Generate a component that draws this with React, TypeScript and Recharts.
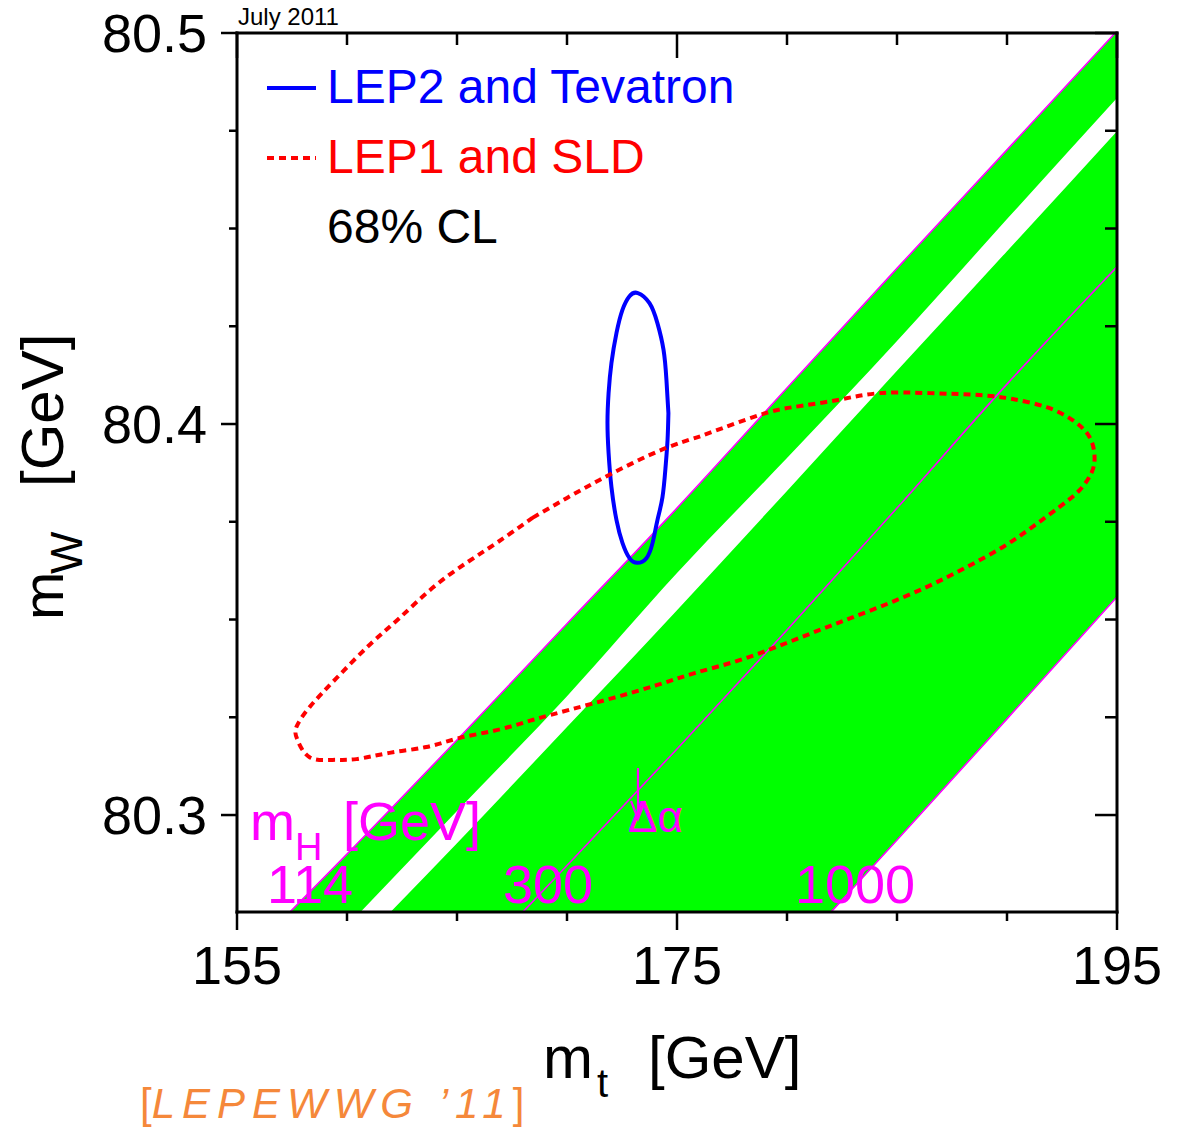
import { Area, ComposedChart, Legend, Line, XAxis, YAxis } from 'recharts'

// m_t values (GeV) where the SM band edges were read
const mt = [155, 160, 165, 170, 175, 180, 185, 190, 195]
// band edges: m_W (GeV) for each m_t
const mh114 = [80.2616, 80.29, 80.3192, 80.3489, 80.3785, 80.4092, 80.4398, 80.4701, 80.5005]
const gapTop = [80.2425, 80.2716, 80.301, 80.3304, 80.3619, 80.3913, 80.4212, 80.4524, 80.4834]
const gapBottom = [80.2345, 80.2637, 80.2928, 80.3225, 80.3524, 80.3829, 80.4136, 80.4442, 80.4749]
const mh300 = [80.1997, 80.2261, 80.2573, 80.2871, 80.3169, 80.3473, 80.3785, 80.4102, 80.4402]
const mh1000 = [80.116, 80.145, 80.1737, 80.2028, 80.2327, 80.2629, 80.2936, 80.3246, 80.3558]

// LEP2 and Tevatron, 68% CL contour
const lep2Mt = [
	174.61, 174.52, 174.39, 174.11, 173.75, 173.22, 172.84, 172.52, 172.25, 172.02, 171.89, 171.84, 171.89,
	172.02, 172.25, 172.52, 172.84, 173.2, 173.61, 173.89, 174.11, 174.34, 174.48, 174.57, 174.61,
]
const lep2Mw = [
	80.4028, 80.4113, 80.4189, 80.4258, 80.4309, 80.4335, 80.4327, 80.4292, 80.4233, 80.4156, 80.4079, 80.4003,
	80.3926, 80.3839, 80.3754, 80.3696, 80.3657, 80.3645, 80.3657, 80.3696, 80.3754, 80.3813, 80.389, 80.3959,
	80.4028,
]

// LEP1 and SLD, 68% CL contour
const lep1Mt = [
	168.43, 170.0, 171.48, 172.98, 174.52, 175.8, 176.61, 178.75, 180.25, 182.25, 184.2, 186.48, 188.75, 190.25,
	191.8, 192.98, 193.75, 193.98, 193.84, 193.3, 192.39, 191.16, 189.8, 188.16, 186.34, 184.2, 182.07, 179.98,
	177.84, 175.8, 174.07, 172.07, 170.11, 168.43, 166.8, 165.11, 163.61, 161.93, 160.43, 159.34, 158.3, 157.75,
	157.7, 158.3, 159.52, 161.02, 162.39, 163.89, 165.43, 166.8, 168.43,
]
const lep1Mw = [
	80.376, 80.3811, 80.3857, 80.39, 80.3939, 80.3964, 80.398, 80.4023, 80.4043, 80.4061, 80.4079, 80.4079,
	80.4074, 80.4064, 80.4043, 80.401, 80.3967, 80.3916, 80.3875, 80.3831, 80.3788, 80.3737, 80.3685, 80.3634,
	80.3583, 80.3532, 80.3486, 80.344, 80.3396, 80.3363, 80.3332, 80.3299, 80.3269, 80.3243, 80.3217, 80.3197,
	80.3174, 80.3159, 80.3143, 80.3141, 80.3148, 80.3192, 80.3225, 80.3276, 80.335, 80.3435, 80.3504, 80.3581,
	80.3645, 80.3696, 80.376,
]

const xTicks = [155, 160, 165, 170, 175, 180, 185, 190, 195]
const xMajor = [155, 175, 195]
const yTicks = [80.3, 80.325, 80.35, 80.375, 80.4, 80.425, 80.45, 80.475, 80.5]
const yMajor = [80.3, 80.4, 80.5]
const legendNames = ['LEP2 and Tevatron', 'LEP1 and SLD']
const higgsLabels = ['114', '300', '1000']

const bandRows = mt.map((x, i) => ({
	x,
	allowed: [mh1000[i], mh114[i]],
	excluded: [gapBottom[i], gapTop[i]],
	mh114: mh114[i],
	mh300: mh300[i],
	mh1000: mh1000[i],
}))
const lep2 = lep2Mt.map((x, i) => ({ x, mw: lep2Mw[i] }))
const lep1 = lep1Mt.map((x, i) => ({ x, mw: lep1Mw[i] }))

const MAGENTA = '#ff00ff'
const isMajor = (v: number, majors: number[]) => majors.some((m) => Math.abs(m - v) < 1e-6)

const BottomTick = ({ x, y, payload }: any) => {
	const major = isMajor(payload.value, xMajor)
	return (
		<g>
			<line x1={x} x2={x} y1={y} y2={y + (major ? 18 : 9)} stroke='#000' strokeWidth={2.5} />
			{major && (
				<text x={x} y={y + 72} textAnchor='middle' fontSize={54} fill='#000'>
					{payload.value}
				</text>
			)}
		</g>
	)
}

const LeftTick = ({ x, y, payload }: any) => {
	const major = isMajor(payload.value, yMajor)
	return (
		<g>
			<line x1={x - (major ? 16 : 8)} x2={x} y1={y} y2={y} stroke='#000' strokeWidth={2.5} />
			{major && (
				<text x={x - 30} y={y + 19} textAnchor='end' fontSize={54} fill='#000'>
					{payload.value.toFixed(1)}
				</text>
			)}
		</g>
	)
}

const TopTick = ({ x, y, payload }: any) => (
	<line x1={x} x2={x} y1={y} y2={y + (isMajor(payload.value, xMajor) ? 25 : 12)} stroke='#000' strokeWidth={2.5} />
)

const RightTick = ({ x, y, payload }: any) => (
	<line x1={x - (isMajor(payload.value, yMajor) ? 22 : 12)} x2={x} y1={y} y2={y} stroke='#000' strokeWidth={2.5} />
)

const LegendBox = ({ payload }: any) => {
	const items = legendNames
		.map((name) => (payload || []).find((e: any) => e.value === name))
		.filter(Boolean)
	return (
		<svg width={520} height={210} style={{ display: 'block', overflow: 'visible' }}>
			{items.map((entry: any, i: number) => (
				<g key={entry.value}>
					<line
						x1={5}
						x2={54}
						y1={38 + i * 70}
						y2={38 + i * 70}
						stroke={entry.color}
						strokeWidth={4}
						strokeDasharray={entry.payload?.strokeDasharray}
					/>
					<text x={65} y={53 + i * 70} fontSize={48} fill={entry.color}>
						{entry.value}
					</text>
				</g>
			))}
			<text x={65} y={193} fontSize={48} fill='#000'>
				68% CL
			</text>
		</svg>
	)
}

const axisLine = { stroke: '#000', strokeWidth: 3, strokeLinecap: 'square' as const }

const App = () => {
	return (
		<div
			style={{
				position: 'absolute',
				left: 0,
				top: 0,
				width: 1180,
				height: 1127,
				background: '#fff',
				fontFamily: "'Liberation Sans', Arial, sans-serif",
			}}
		>
			<ComposedChart width={1180} height={1127} data={bandRows} margin={{ top: 32, right: 62, bottom: 115, left: 0 }}>
				<Area
					dataKey='allowed'
					type='monotone'
					fill='#00ff00'
					fillOpacity={1}
					stroke='none'
					legendType='none'
					isAnimationActive={false}
				/>
				<Area
					dataKey='excluded'
					type='monotone'
					fill='#ffffff'
					fillOpacity={1}
					stroke='none'
					legendType='none'
					isAnimationActive={false}
				/>
				<Line dataKey='mh114' type='monotone' stroke={MAGENTA} strokeWidth={1.6} dot={false} legendType='none' isAnimationActive={false} />
				<Line dataKey='mh300' type='monotone' stroke={MAGENTA} strokeWidth={1.6} dot={false} legendType='none' isAnimationActive={false} />
				<Line dataKey='mh1000' type='monotone' stroke={MAGENTA} strokeWidth={1.6} dot={false} legendType='none' isAnimationActive={false} />
				<Line
					data={lep2}
					dataKey='mw'
					name='LEP2 and Tevatron'
					type='natural'
					stroke='#0000ff'
					strokeWidth={4}
					dot={false}
					isAnimationActive={false}
				/>
				<Line
					data={lep1}
					dataKey='mw'
					name='LEP1 and SLD'
					type='natural'
					stroke='#ff0000'
					strokeWidth={4}
					strokeDasharray='7 5'
					dot={false}
					isAnimationActive={false}
				/>

				<XAxis
					dataKey='x'
					type='number'
					domain={[155, 195]}
					allowDataOverflow
					ticks={xTicks}
					interval={0}
					height={100}
					tickSize={0}
					tickMargin={0}
					tickLine={false}
					tick={<BottomTick />}
					axisLine={axisLine}
				/>
				<XAxis
					xAxisId='top'
					orientation='top'
					dataKey='x'
					type='number'
					domain={[155, 195]}
					allowDataOverflow
					ticks={xTicks}
					interval={0}
					height={1}
					tickSize={0}
					tickMargin={0}
					tickLine={false}
					tick={<TopTick />}
					axisLine={axisLine}
				/>
				<YAxis
					type='number'
					domain={[80.2752, 80.5]}
					allowDataOverflow
					ticks={yTicks}
					interval={0}
					width={237}
					tickSize={0}
					tickMargin={0}
					tickLine={false}
					tick={<LeftTick />}
					axisLine={axisLine}
				/>
				<YAxis
					yAxisId='right'
					orientation='right'
					type='number'
					domain={[80.2752, 80.5]}
					allowDataOverflow
					ticks={yTicks}
					interval={0}
					width={1}
					tickSize={0}
					tickMargin={0}
					tickLine={false}
					tick={<RightTick />}
					axisLine={axisLine}
				/>

				<Legend
					layout='vertical'
					align='center'
					verticalAlign='middle'
					content={<LegendBox />}
					wrapperStyle={{ left: 262, top: 50, width: 520, height: 210 }}
				/>
			</ComposedChart>

			{/* annotations drawn over the plot */}
			<svg
				width={1180}
				height={1127}
				style={{ position: 'absolute', left: 0, top: 0, pointerEvents: 'none', overflow: 'visible' }}
			>
				<text x={238} y={25} fontSize={24} fill='#000'>
					July 2011
				</text>

				<text x={250} y={840} fontSize={54} fill={MAGENTA}>
					m
				</text>
				<text x={295} y={860} fontSize={38} fill={MAGENTA}>
					H
				</text>
				<text x={343} y={840} fontSize={54} fill={MAGENTA}>
					[GeV]
				</text>
				<text x={267} y={903} fontSize={54} fill={MAGENTA}>
					{higgsLabels[0]}
				</text>
				<text x={503} y={903} fontSize={54} fill={MAGENTA}>
					{higgsLabels[1]}
				</text>
				<text x={795} y={903} fontSize={54} fill={MAGENTA}>
					{higgsLabels[2]}
				</text>
				<path d='M638 768 L638 818 M631 801 L638 819 L645 801' stroke={MAGENTA} strokeWidth={2.2} fill='none' />
				<text x={628} y={832} fontSize={44} fill={MAGENTA}>
					Δα
				</text>

				<text x={543} y={1078} fontSize={60} fill='#000'>
					m
				</text>
				<text x={597} y={1097} fontSize={40} fill='#000'>
					t
				</text>
				<text x={648} y={1078} fontSize={60} fill='#000'>
					[GeV]
				</text>
				<text transform='translate(63,620) rotate(-90)' fontSize={58} fill='#000'>
					m
				</text>
				<text transform='translate(82,574) rotate(-90)' fontSize={45} fill='#000'>
					W
				</text>
				<text transform='translate(63,487) rotate(-90)' fontSize={60} fill='#000'>
					[GeV]
				</text>

				<text x={140} y={1118} fontSize={42} fill='#f5883a'>
					[
					<tspan fontStyle='italic' letterSpacing={7}>
						{'LEPEWWG ’11'}
					</tspan>
					]
				</text>
			</svg>
		</div>
	)
}

export default App
